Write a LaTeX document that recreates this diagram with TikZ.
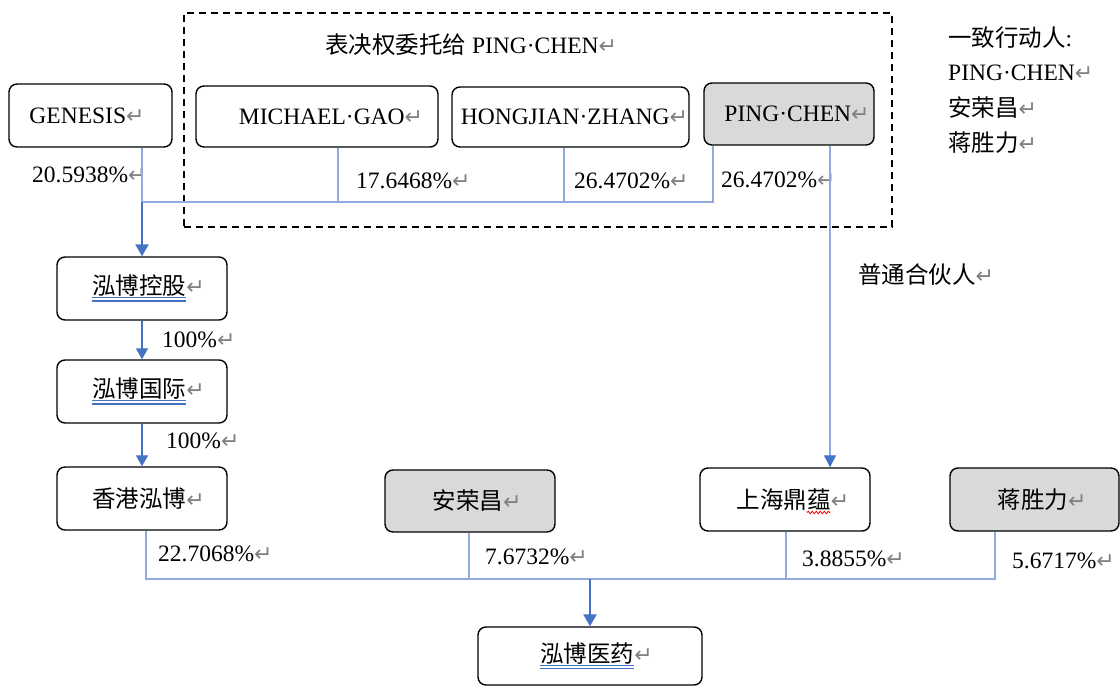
\documentclass[tikz,border=0pt]{standalone}
\usepackage{fontspec}
\setmainfont{Liberation Serif}
\newfontfamily\cjk{Noto Sans CJK SC}
\newfontfamily\dejavu{DejaVu Sans}
\usetikzlibrary{arrows.meta,calc,decorations.pathmorphing}
\definecolor{linkblue}{RGB}{68,114,196}
\definecolor{thinblue}{RGB}{143,170,220}
\definecolor{boxgray}{RGB}{217,217,217}
\definecolor{retgray}{RGB}{128,128,128}
\newcommand\retm{{\dejavu\fontsize{22}{22}\selectfont\textcolor{retgray}{↵}}}
\newcommand\dblul[1]{\setbox0=\hbox{#1}\leavevmode\rlap{\textcolor{linkblue}{\rule[-3.5pt]{\wd0}{1.3pt}}}\rlap{\textcolor{linkblue}{\rule[-6.8pt]{\wd0}{1.3pt}}}\copy0}
\begin{document}
\begin{tikzpicture}[x=1pt,y=-1pt,
  orgbox/.style={draw=black, line width=1.4pt, rounded corners=8pt, inner sep=0pt, font=\fontsize{23.5}{28}\selectfont, fill=white},
  graybox/.style={orgbox, fill=boxgray},
  lbl/.style={anchor=west, inner sep=0pt, font=\fontsize{23.5}{28}\selectfont},
  feed/.style={draw=thinblue, line width=1.2pt},
  trunk/.style={draw=linkblue, line width=2.2pt, -{Triangle[width=13pt,length=12pt]}},
  thinarrow/.style={draw=linkblue, line width=1.3pt, -{Triangle[width=12pt,length=11pt]}},
  gparrow/.style={draw=thinblue, line width=1.3pt, -{Triangle[width=12pt,length=12pt,color=linkblue]}},
  votebox/.style={draw=black, line width=1.4pt, dash pattern=on 7pt off 5pt, inner sep=0pt},
]
\useasboundingbox[fill=white] (0,0) rectangle (1120,687);

% dashed voting-delegation frame
\node[votebox, minimum width=708pt, minimum height=214pt] (vote) at (538,120) {};
\node[lbl] (title) at (325,45) {{\cjk 表决权委托给} PING·CHEN\retm};

% top row
\node[orgbox, minimum width=163pt, minimum height=63pt] (genesis) at (90.5,115.5) {\hspace*{-7pt}GENESIS\retm};
\node[orgbox, minimum width=242pt, minimum height=61pt] (michael) at (317,116.5) {\hspace*{28pt}MICHAEL·GAO\retm};
\node[orgbox, minimum width=237pt, minimum height=60pt] (hongjian) at (570.5,117) {\hspace*{8pt}HONGJIAN·ZHANG\retm};
\node[graybox, minimum width=170pt, minimum height=62pt] (pingchen) at (789,114) {\hspace*{16pt}PING·CHEN\retm};

% left chain
\node[orgbox, minimum width=170pt, minimum height=63pt] (konggu) at (142,288.5) {\hspace*{13pt}{\cjk\dblul{泓博控股}}\retm};
\node[orgbox, minimum width=170pt, minimum height=63pt] (guoji) at (142,391.5) {\hspace*{13pt}{\cjk\dblul{泓博国际}}\retm};
\node[orgbox, minimum width=170pt, minimum height=63pt] (xianggang) at (142,498.5) {\hspace*{13pt}{\cjk 香港泓博}\retm};

% bottom row
\node[graybox, minimum width=170pt, minimum height=62pt] (anrongchang) at (470,501) {\hspace*{14pt}{\cjk 安荣昌}\retm};
\node[orgbox, minimum width=170pt, minimum height=63pt] (shdy) at (785,499.5) {\hspace*{16pt}{\cjk 上海鼎蕴}\retm};
\node[graybox, minimum width=169pt, minimum height=63pt] (jiang) at (1034.5,499.5) {\hspace*{15pt}{\cjk 蒋胜力}\retm};
\node[orgbox, minimum width=224pt, minimum height=58pt] (yiyao) at (590,656) {\hspace*{13pt}{\cjk\dblul{泓博医药}}\retm};
\draw[red, line width=0.8pt, decorate, decoration={snake, amplitude=1.3pt, segment length=4pt}] ($(shdy.center)+(22,13)$) -- ($(shdy.center)+(45,13)$);

% concert parties
\node[lbl] (concert) at (948,38) {{\cjk 一致行动人}:};
\node[lbl] (cpc) at (948,73) {PING·CHEN\retm};
\node[lbl] (carc) at (948,108) {{\cjk 安荣昌}\retm};
\node[lbl] (cjsl) at (948,143) {{\cjk 蒋胜力}\retm};

% percentage labels
\node[lbl] (pgen) at (32,175) {20.5938\%\retm};
\node[lbl] (pmg) at (356,181) {17.6468\%\retm};
\node[lbl] (phz) at (574,181) {26.4702\%\retm};
\node[lbl] (ppc) at (721,180) {26.4702\%\retm};
\node[lbl] (pkg) at (162,340) {100\%\retm};
\node[lbl] (pgj) at (166,441) {100\%\retm};
\node[lbl] (pxg) at (158,554) {22.7068\%\retm};
\node[lbl] (par) at (485,557) {7.6732\%\retm};
\node[lbl] (psd) at (802,559) {3.8855\%\retm};
\node[lbl] (pjl) at (1012,561) {5.6717\%\retm};
\node[lbl] (gp) at (858,275) {{\cjk 普通合伙人}\retm};

% connector junctions
\coordinate (jtop) at (142,202);
\coordinate (xmg) at (338,0);
\coordinate (xhz) at (564,0);
\coordinate (xpc) at (713,0);
\coordinate (xgp) at (830,0);
\coordinate (jbot) at (590,579);
\coordinate (xxg) at (146,0);
\coordinate (xar) at (469,0);
\coordinate (xsd) at (786,0);
\coordinate (xjl) at (995,0);

% top connectors
\draw[feed] (genesis.south -| jtop) -- (jtop);
\draw[feed] (michael.south -| xmg) |- (jtop);
\draw[feed] (hongjian.south -| xhz) |- (jtop);
\draw[feed] (pingchen.south -| xpc) |- (jtop);
\draw[trunk] (jtop) -- (konggu.north);
\draw[thinarrow] (konggu.south) -- (guoji.north);
\draw[thinarrow] (guoji.south) -- (xianggang.north);
\draw[gparrow] (pingchen.south -| xgp) -- (shdy.north -| xgp);

% bottom connectors
\draw[feed] (xianggang.south -| xxg) |- (jbot);
\draw[feed] (anrongchang.south -| xar) |- (jbot);
\draw[feed] (shdy.south -| xsd) |- (jbot);
\draw[feed] (jiang.south -| xjl) |- (jbot);
\draw[trunk] (jbot) -- (yiyao.north);
\end{tikzpicture}
\end{document}
